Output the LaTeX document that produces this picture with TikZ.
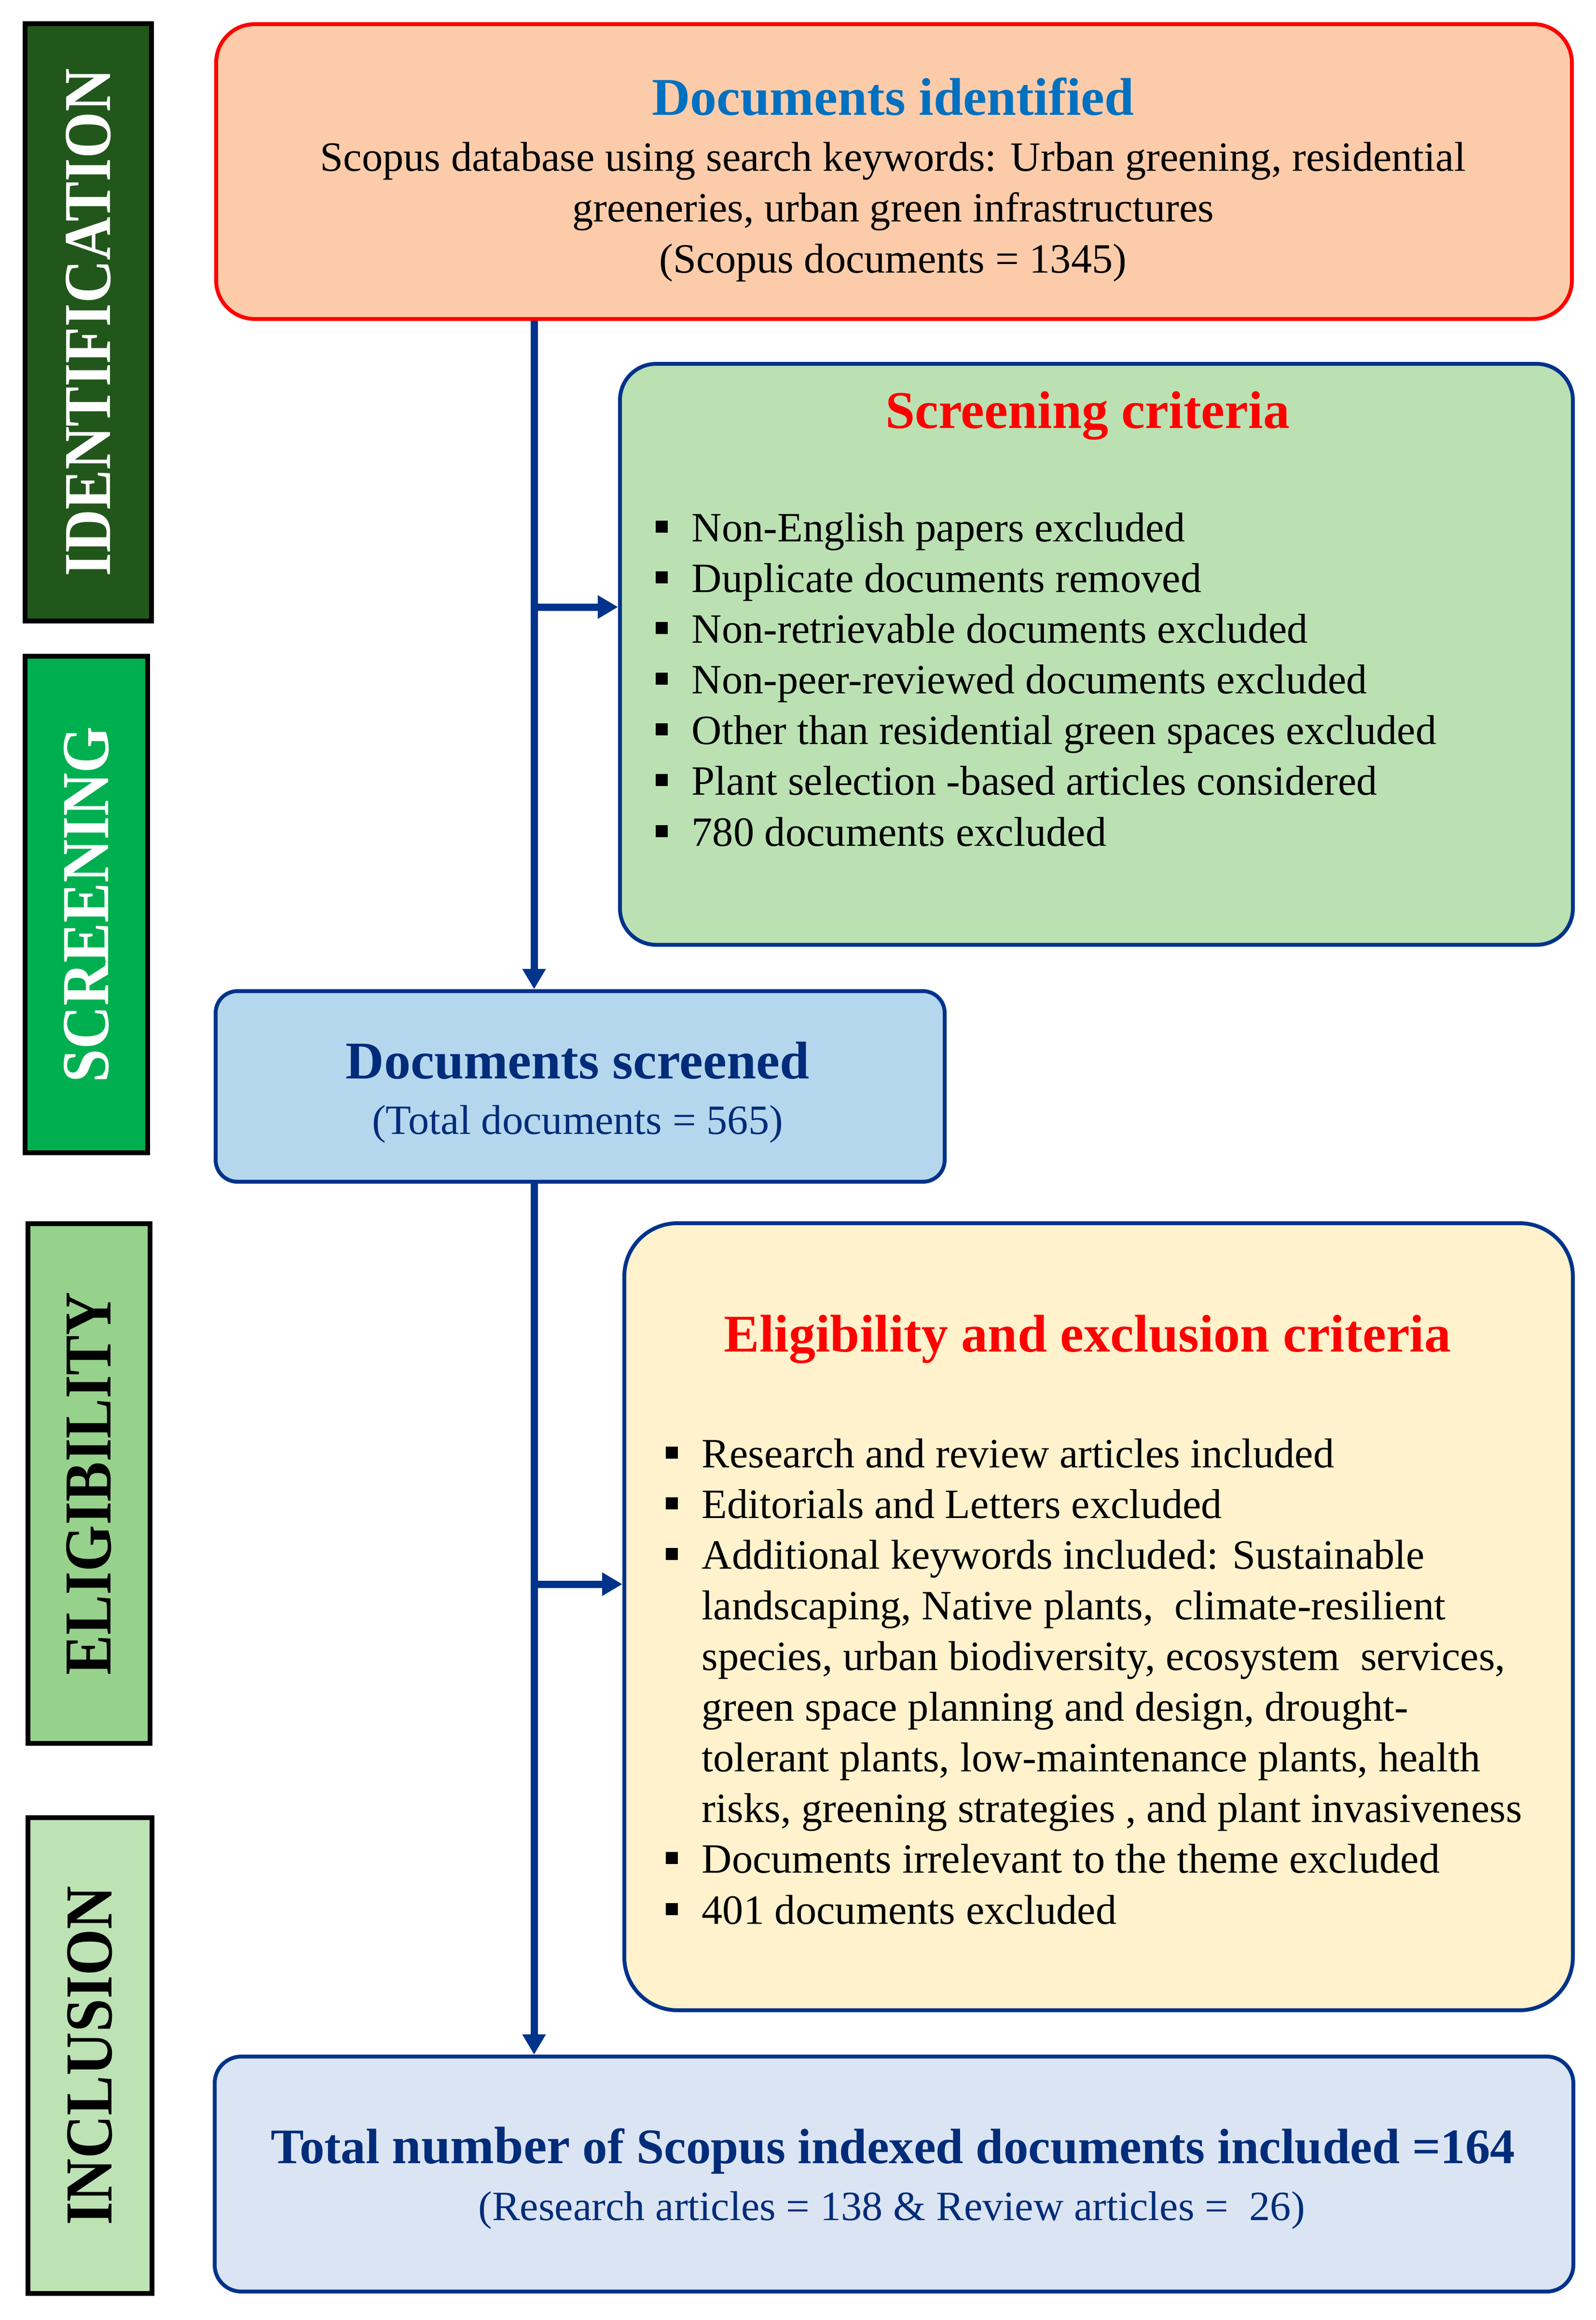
\documentclass[tikz,border=0pt]{standalone}
\usepackage{fontspec}
\setmainfont{Liberation Serif}
\usetikzlibrary{arrows.meta,calc}

\definecolor{idgreen}{RGB}{33,87,26}
\definecolor{scrgreen}{RGB}{0,176,80}
\definecolor{eligreen}{RGB}{150,210,140}
\definecolor{incgreen}{RGB}{189,227,181}
\definecolor{peach}{RGB}{252,204,170}
\definecolor{critgreen}{RGB}{187,225,179}
\definecolor{skyblue}{RGB}{181,215,238}
\definecolor{cream}{RGB}{255,242,204}
\definecolor{paleblue}{RGB}{218,228,243}
\definecolor{navy}{RGB}{0,51,139}
\definecolor{inknavy}{RGB}{0,44,122}
\definecolor{titleblue}{RGB}{0,112,192}

\newcommand{\blt}{\makebox[0.75cm][l]{\raisebox{0.185cm}{\rule{0.25cm}{0.25cm}}}}

\begin{document}
\begin{tikzpicture}[
    stage/.style={draw=black, line width=0.1cm, inner sep=0pt, rotate=90,
                  font=\fontsize{35.3}{40}\selectfont\bfseries},
    panel/.style={draw=navy, line width=0.08cm, inner sep=0pt},
    head/.style={font=\fontsize{31.3}{36}\selectfont\bfseries, inner sep=0pt, anchor=base},
    body/.style={font=\fontsize{24.6}{29.9}\selectfont, inner sep=0pt},
    flow/.style={draw=navy, line width=0.15cm, -{Triangle[length=0.42cm,width=0.46cm]}}
  ]

  \useasboundingbox (0,0) rectangle (33.07,-48.08);

  \node (idbar)  at (1.83,-6.68)   [stage, fill=idgreen, text=white, minimum width=12.38cm, minimum height=2.62cm] {\scalebox{1}[1.12]{IDENTIFICATION}};
  \node (scrbar) at (1.79,-18.745) [stage, fill=scrgreen, text=white, minimum width=10.29cm, minimum height=2.54cm] {\scalebox{1}[1.12]{SCREENING}};
  \node (elibar) at (1.845,-30.745)[stage, fill=eligreen, minimum width=10.77cm, minimum height=2.53cm] {\scalebox{1}[1.12]{ELIGIBILITY}};
  \node (incbar) at (1.865,-42.60) [stage, fill=incgreen, minimum width=9.86cm, minimum height=2.57cm] {\scalebox{1}[1.12]{INCLUSION}};

  \node (ident)    at (18.53,-3.555)  [panel, draw=red, fill=peach, minimum width=28.10cm, minimum height=6.11cm, rounded corners=0.8cm] {};
  \node (scrcrit)  at (22.725,-13.56) [panel, fill=critgreen, minimum width=19.75cm, minimum height=12.04cm, rounded corners=0.75cm] {};
  \node (screened) at (12.025,-22.515)[panel, fill=skyblue, minimum width=15.11cm, minimum height=3.95cm, rounded corners=0.45cm] {};
  \node (elig)     at (22.77,-33.505) [panel, fill=cream, minimum width=19.66cm, minimum height=16.31cm, rounded corners=1.1cm] {};
  \node (incl)     at (18.53,-45.055) [panel, fill=paleblue, minimum width=28.16cm, minimum height=4.87cm, rounded corners=0.55cm] {};

  \node (identT) at (18.51,-2.38) [head, text=titleblue] {Documents identified};
  \node (identB) at (18.51,-5.65) [body, align=center, anchor=base]
    {Scopus database using search keywords: Urban greening, residential\\
     greeneries, urban green infrastructures\\
     (Scopus documents = 1345)};

  \node (scrcritT) at (22.54,-8.87) [head, text=red] {Screening criteria};
  \node (scrcritL) at (13.58,-17.53) [body, align=left, anchor=base west]
    {\blt Non-English papers excluded\\
     \blt Duplicate documents removed\\
     \blt Non-retrievable documents excluded\\
     \blt Non-peer-reviewed documents excluded\\
     \blt Other than residential green spaces excluded\\
     \blt Plant selection -based articles considered\\
     \blt 780 documents excluded};

  \node (screenedT) at (11.97,-22.35) [head, text=inknavy] {Documents screened};
  \node (screenedB) at (11.97,-23.50) [body, text=inknavy, anchor=base] {(Total documents = 565)};

  \node (eligT) at (22.54,-28.01) [head, text=red] {Eligibility and exclusion criteria};
  \node (eligL) at (13.79,-39.87) [body, align=left, anchor=base west]
    {\blt Research and review articles included\\
     \blt Editorials and Letters excluded\\
     \blt Additional keywords included: Sustainable\\
     \hspace*{0.75cm}landscaping, Native plants,\ \ climate-resilient\\
     \hspace*{0.75cm}species, urban biodiversity, ecosystem\ \ services,\\
     \hspace*{0.75cm}green space planning and design, drought-\\
     \hspace*{0.75cm}tolerant plants, low-maintenance plants, health\\
     \hspace*{0.75cm}risks, greening strategies , and plant invasiveness\\
     \blt Documents irrelevant to the theme excluded\\
     \blt 401 documents excluded};

  \node (inclT) at (18.51,-44.83) [head, text=inknavy, font=\fontsize{29.3}{34}\selectfont\bfseries]
    {Total \textbf{\fontsize{31}{34}\selectfont number} of Scopus indexed documents included =164};
  \node (inclB) at (18.48,-46.01) [body, text=inknavy, anchor=base]
    {(Research articles = 138 \& Review articles =\ \ 26)};

  \coordinate (trunk) at (11.07,0);
  \coordinate (fork1) at (11.07,-12.58);
  \coordinate (fork2) at (11.07,-32.83);

  \draw [flow] (ident.south -| trunk) -- (screened.north -| trunk);
  \draw [flow] (fork1) -- (fork1 -| scrcrit.west);
  \draw [flow] (screened.south -| trunk) -- (incl.north -| trunk);
  \draw [flow] (fork2) -- (fork2 -| elig.west);
\end{tikzpicture}
\end{document}
